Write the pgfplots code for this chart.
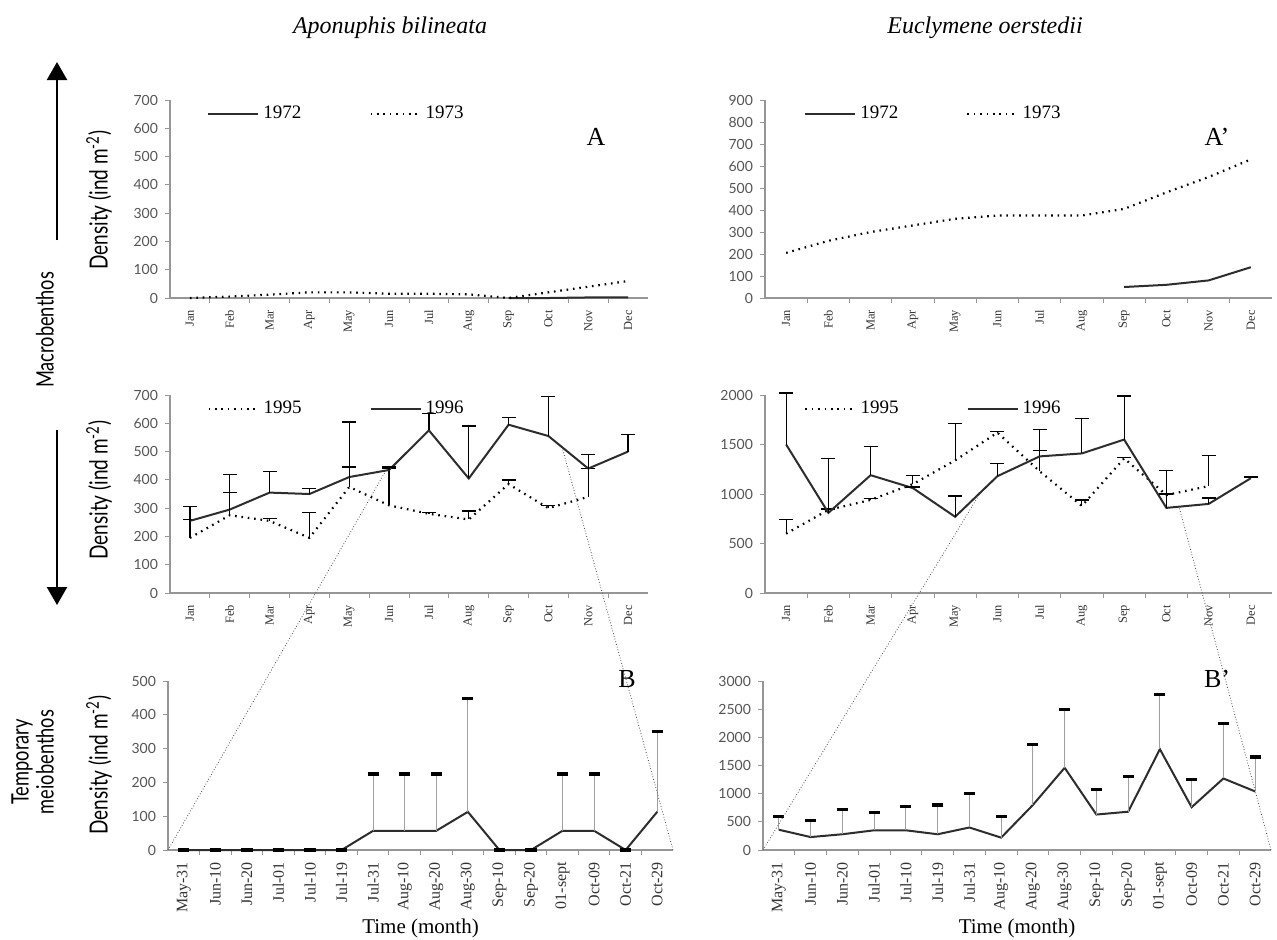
\documentclass[border=0pt]{standalone}
\usepackage{pgfplots}
\pgfplotsset{compat=1.18}
\usepackage{fontspec}
\setmainfont{Liberation Serif}
\newfontfamily\numfont{Lato}
\newfontfamily\condfont[FakeStretch=0.76]{Lato}
\usetikzlibrary{arrows.meta}

\definecolor{axisgray}{RGB}{150,150,150}
\definecolor{ticktext}{RGB}{85,85,85}
\definecolor{linedark}{RGB}{45,45,45}

\pgfplotsset{
  panel/.style={
    scale only axis,
    axis x line=bottom, axis y line=left,
    axis line style={-, axisgray, line width=0.6pt},
    tick align=outside,
    ymin=0,
    major x tick style={draw=none},
    minor x tick style={axisgray, line width=0.5pt},
    y tick style={axisgray, line width=0.5pt},
    major tick length=2.5pt, minor tick length=2.5pt,
    y tick label style={font=\numfont\fontsize{7}{8}\selectfont, text=ticktext},
    x tick label style={rotate=90, anchor=east, font=\fontsize{6.2}{7}\selectfont, text=black!80},
    /pgf/number format/assume math mode=true,
    /pgf/number format/set thousands separator={},
    legend style={draw=none, fill=none, font=\fontsize{9.5}{10}\selectfont,
      legend columns=2, at={(0.065,0.93)}, anchor=west,
      /tikz/every even column/.append style={column sep=32pt}},
    legend image code/.code={\draw[##1] (-2pt,0pt) -- (23pt,0pt);},
    clip=false,
  },
  months/.style={xmin=0.5, xmax=12.5, xtick={1,...,12},
    xticklabels={Jan,Feb,Mar,Apr,May,Jun,Jul,Aug,Sep,Oct,Nov,Dec},
    minor xtick={1.5,2.5,...,11.5}},
  dates/.style={xmin=0.5, xmax=16.5, xtick={1,...,16},
    xticklabels={May-31,Jun-10,Jun-20,Jul-01,Jul-10,Jul-19,Jul-31,Aug-10,Aug-20,Aug-30,Sep-10,Sep-20,01-sept,Oct-09,Oct-21,Oct-29},
    minor xtick={1.5,2.5,...,15.5},
    x tick label style={font=\fontsize{8}{9}\selectfont},
    xlabel={Time (month)}, xlabel style={font=\fontsize{10.5}{12}\selectfont, yshift=4pt}},
  solidline/.style={linedark, line width=1pt, mark=none},
  dottedline/.style={black, line width=1.1pt, dash pattern=on 0.8pt off 2.4pt, mark=none},
  ebars/.style={error bars/.cd, y dir=plus, y explicit, error mark=|,
    error bar style={solid, black, line width=0.6pt},
    error mark options={black, solid, line width=0.7pt, mark size=3.5pt}},
  mbars/.style={error bars/.cd, y dir=plus, y explicit, error mark=|,
    error bar style={solid, gray!75, line width=0.4pt},
    error mark options={black, solid, line width=1.6pt, mark size=2.8pt}},
}

\begin{document}
\begin{tikzpicture}[x=0.5pt, y=-0.5pt]
\path[use as bounding box] (0,0) rectangle (1277,939);

% ===== A: Aponuphis, 1972/1973 =====
\begin{axis}[panel, months, at={(85pt,-149pt)}, anchor=south west,
    width=239pt, height=99pt, ymax=700, ytick={0,100,...,700}]
\addplot[solidline] coordinates {(9,0) (10,0) (11,2) (12,2)};
\addlegendentry{1972}
\addplot[dottedline] coordinates {(1,0) (2,5) (3,12) (4,20) (5,20) (6,15) (7,15) (8,13) (9,0) (10,20) (11,40) (12,60)};
\addlegendentry{1973}
\end{axis}

% ===== A': Euclymene, 1972/1973 =====
\begin{axis}[panel, months, at={(382.5pt,-149pt)}, anchor=south west,
    width=253.5pt, height=99pt, ymax=900, ytick={0,100,...,900}]
\addplot[solidline] coordinates {(9,50) (10,60) (11,80) (12,140)};
\addlegendentry{1972}
\addplot[dottedline] coordinates {(1,205) (2,260) (3,300) (4,330) (5,360) (6,375) (7,375) (8,375) (9,405) (10,480) (11,550) (12,630)};
\addlegendentry{1973}
\end{axis}

% ===== middle left: Aponuphis, 1995/1996 =====
\begin{axis}[panel, months, at={(85pt,-296.5pt)}, anchor=south west,
    width=239pt, height=99pt, ymax=700, ytick={0,100,...,700}]
\addplot[dottedline, ebars] coordinates {
  (1,195) +- (0,65) (2,275) +- (0,80) (3,255) +- (0,8) (4,195) +- (0,90)
  (5,375) +- (0,70) (6,310) +- (0,130) (7,280) +- (0,5) (8,260) +- (0,30)
  (9,385) +- (0,15) (10,300) +- (0,10) (11,340) +- (0,100)};
\addlegendentry{1995}
\addplot[solidline, ebars] coordinates {
  (1,255) +- (0,50) (2,295) +- (0,125) (3,355) +- (0,75) (4,350) +- (0,20)
  (5,410) +- (0,195) (6,435) +- (0,10) (7,575) +- (0,60) (8,405) +- (0,185)
  (9,595) +- (0,25) (10,555) +- (0,140) (11,440) +- (0,50) (12,500) +- (0,60)};
\addlegendentry{1996}
\coordinate (mlA) at (axis cs:5.9,428);
\coordinate (mlB) at (axis cs:10.35,512);
\end{axis}

% ===== middle right: Euclymene, 1995/1996 =====
\begin{axis}[panel, months, at={(382.5pt,-296.5pt)}, anchor=south west,
    width=253.5pt, height=99pt, ymax=2000, ytick={0,500,...,2000}]
\addplot[dottedline, ebars] coordinates {
  (1,600) +- (0,140) (2,840) +- (0,10) (3,940) +- (0,15) (4,1100) +- (0,90)
  (5,1340) +- (0,370) (6,1620) +- (0,10) (7,1230) +- (0,210) (8,880) +- (0,60)
  (9,1360) +- (0,10) (10,990) +- (0,10) (11,1080) +- (0,310)};
\addlegendentry{1995}
\addplot[solidline, ebars] coordinates {
  (1,1500) +- (0,520) (2,810) +- (0,550) (3,1190) +- (0,290) (4,1060) +- (0,10)
  (5,770) +- (0,210) (6,1180) +- (0,130) (7,1380) +- (0,270) (8,1410) +- (0,350)
  (9,1550) +- (0,440) (10,860) +- (0,380) (11,900) +- (0,60) (12,1160) +- (0,10)};
\addlegendentry{1996}
\coordinate (mrA) at (axis cs:5.6,1015);
\coordinate (mrB) at (axis cs:10.3,870);
\end{axis}

% ===== B: Aponuphis, temporary meiobenthos =====
\begin{axis}[panel, dates, at={(84pt,-425pt)}, anchor=south west,
    width=252.5pt, height=84.5pt, ymax=500, ytick={0,100,...,500}]
\addplot[solidline, mbars] coordinates {
  (1,0) +- (0,0) (2,0) +- (0,0) (3,0) +- (0,0) (4,0) +- (0,0)
  (5,0) +- (0,0) (6,0) +- (0,0) (7,57) +- (0,168) (8,57) +- (0,168)
  (9,57) +- (0,168) (10,113) +- (0,335) (11,0) +- (0,0) (12,0) +- (0,0)
  (13,57) +- (0,168) (14,57) +- (0,168) (15,0) +- (0,0) (16,113) +- (0,237)};
\coordinate (bL0) at (rel axis cs:0,0);
\coordinate (bL1) at (rel axis cs:1,0);
\end{axis}

% ===== B': Euclymene, temporary meiobenthos =====
\begin{axis}[panel, dates, at={(381.5pt,-425pt)}, anchor=south west,
    width=254pt, height=84.5pt, ymax=3000, ytick={0,500,...,3000}]
\addplot[solidline, mbars] coordinates {
  (1,360) +- (0,240) (2,230) +- (0,290) (3,280) +- (0,440) (4,350) +- (0,320)
  (5,350) +- (0,420) (6,280) +- (0,520) (7,400) +- (0,600) (8,220) +- (0,370)
  (9,800) +- (0,1070) (10,1460) +- (0,1040) (11,630) +- (0,450) (12,680) +- (0,630)
  (13,1790) +- (0,970) (14,760) +- (0,490) (15,1270) +- (0,970) (16,1040) +- (0,610)};
\coordinate (bR0) at (rel axis cs:0,0);
\coordinate (bR1) at (rel axis cs:1,0);
\end{axis}

% zoom lines from the meiobenthos panels up to the macrobenthos panels
\draw[densely dotted, line width=0.4pt, black!70] (bL0) -- (mlA);
\draw[densely dotted, line width=0.4pt, black!70] (bL1) -- (mlB);
\draw[densely dotted, line width=0.4pt, black!70] (bR0) -- (mrA);
\draw[densely dotted, line width=0.4pt, black!70] (bR1) -- (mrB);

% titles and panel letters
\node[font=\itshape\fontsize{12}{14}\selectfont] at (390,28) {Aponuphis bilineata};
\node[font=\itshape\fontsize{12}{14}\selectfont] at (985,28) {Euclymene oerstedii};
\node[font=\fontsize{13}{15}\selectfont] at (596,137) {A};
\node[font=\fontsize{13}{15}\selectfont] at (1217,137) {A’};
\node[font=\fontsize{13}{15}\selectfont] at (627,679) {B};
\node[font=\fontsize{13}{15}\selectfont] at (1217,679) {B’};

% left-hand labels
\node[rotate=90, font=\condfont\fontsize{12.5}{14}\selectfont] at (99,200) {Density (ind m\textsuperscript{-2})};
\node[rotate=90, font=\condfont\fontsize{12.5}{14}\selectfont] at (99,490) {Density (ind m\textsuperscript{-2})};
\node[rotate=90, font=\condfont\fontsize{12.5}{14}\selectfont] at (99,765) {Density (ind m\textsuperscript{-2})};
\node[rotate=90, font=\condfont\fontsize{12}{14}\selectfont] at (45,330) {Macrobenthos};
\draw[line width=1.2pt, -{Triangle[width=10pt,length=9pt]}] (57,240) -- (57,62);
\draw[line width=1.2pt, -{Triangle[width=10pt,length=9pt]}] (57,430) -- (57,605);
\node[rotate=90, font=\condfont\fontsize{12}{14}\selectfont] at (22,762) {Temporary};
\node[rotate=90, font=\condfont\fontsize{12}{14}\selectfont] at (45,762) {meiobenthos};
\end{tikzpicture}
\end{document}
